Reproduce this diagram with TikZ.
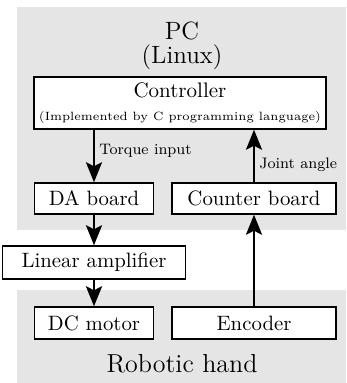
\documentclass[tikz,border=0pt]{standalone}
\usetikzlibrary{arrows.meta}

\definecolor{bggray}{gray}{0.9}

\tikzset{
    block/.style={draw, fill=white, line width=0.7pt, inner sep=0pt,
        font=\fontsize{10.4}{12}\selectfont},
    area/.style={fill=bggray, draw=none},
    arr/.style={line width=1.3pt,
        -{Stealth[length=10pt, width=8pt, inset=2pt]}},
    sig/.style={font=\fontsize{7.6}{9}\selectfont, anchor=west, inner sep=2pt}
}

\begin{document}
\begin{tikzpicture}[x=0.5pt, y=-0.5pt]
    \useasboundingbox (0,0) rectangle (346,383);

    % shaded regions
    \fill[area] (17,7) rectangle (346,230);
    \fill[area] (17,290) rectangle (346,383);
    \node (pc) at (182,31) {\fontsize{12.5}{13}\selectfont PC};
    \node (linux) at (182,57) {\fontsize{12.5}{13}\selectfont (Linux)};
    \node (hand) at (182,364) {\fontsize{13}{15}\selectfont Robotic hand};

    % blocks
    \node[block, minimum width=146pt, minimum height=26pt, align=center,
          text depth=1pt] (ctrl) at (180,103)
        {\fontsize{10.5}{12}\selectfont Controller\\[-0.5pt]
         {\fontsize{6}{7.5}\selectfont (Implemented by C programming language)}};
    \node[block, minimum width=59.5pt, minimum height=15.5pt] (da) at (94,198.5) {DA board};
    \node[block, minimum width=82pt, minimum height=15.5pt] (cnt) at (254,198.5) {Counter board};
    \node[block, minimum width=91.5pt, minimum height=16.5pt] (amp) at (94,262.5) {Linear amplifier};
    \node[block, minimum width=59.5pt, minimum height=16pt] (motor) at (94,323) {DC motor};
    \node[block, minimum width=82pt, minimum height=16pt] (enc) at (254,323) {Encoder};

    % signal flow
    \draw[arr] (ctrl.south -| da.north) -- node[sig, pos=0.4] (tq) {Torque input} (da.north);
    \draw[arr] (da) -- (amp);
    \draw[arr] (amp) -- (motor);
    \draw[arr] (enc) -- (cnt);
    \draw[arr] (cnt.north) -- node[sig, pos=0.33] (ja) {Joint angle} (cnt.north |- ctrl.south);
\end{tikzpicture}
\end{document}
